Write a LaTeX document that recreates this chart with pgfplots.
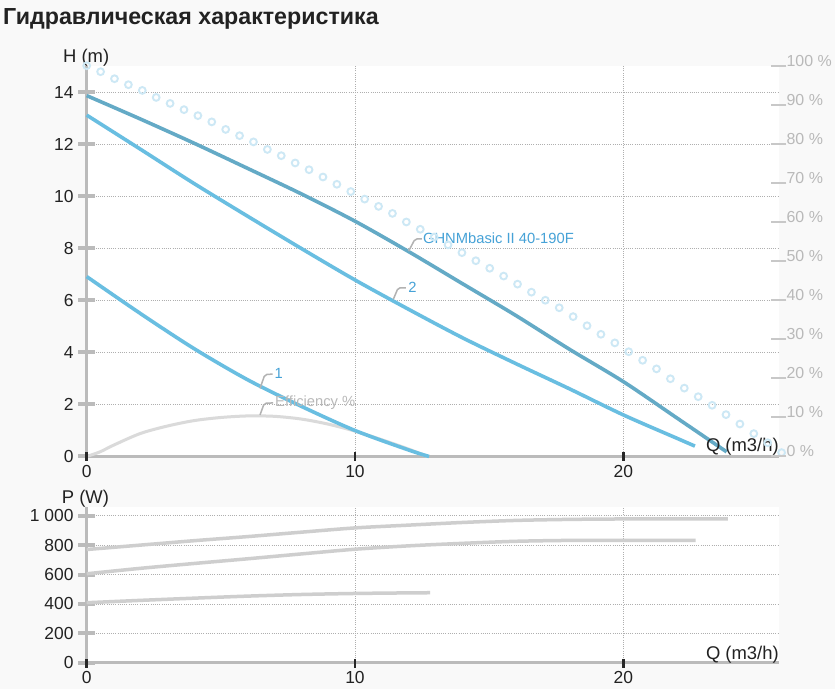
\documentclass[border=0pt]{standalone}
\usepackage{fontspec}
\setmainfont{Liberation Sans}
\usepackage{pgfplots}
\usepackage{pgfplotstable}
\pgfplotsset{compat=1.18}
\definecolor{bgc}{RGB}{249,249,249}
\definecolor{titlec}{RGB}{34,34,34}
\definecolor{darkc}{RGB}{100,170,198}
\definecolor{lightc}{RGB}{105,190,225}
\definecolor{circc}{RGB}{205,232,245}
\definecolor{lblc}{RGB}{70,162,215}
\definecolor{effc}{RGB}{218,218,218}
\definecolor{powc}{RGB}{206,206,206}
\definecolor{leadc}{RGB}{178,178,178}
\definecolor{gridc}{RGB}{175,175,175}
\definecolor{axisc}{RGB}{187,187,187}
\definecolor{pctc}{RGB}{185,185,185}
\definecolor{dashc}{RGB}{200,200,200}
\definecolor{tickc}{RGB}{40,40,40}
\newcommand\tf{\fontsize{17.5}{20}\selectfont}
\newcommand\af{\fontsize{18.5}{21}\selectfont}
\newcommand\lf{\fontsize{14.8}{17}\selectfont}
\newcommand\pf{\fontsize{16}{18}\selectfont}

\pgfplotstableread{
Q H
0 15.03
0.518 14.80
1.036 14.53
1.554 14.30
2.072 14.08
2.59 13.81
3.108 13.58
3.626 13.34
4.144 13.11
4.662 12.87
5.18 12.58
5.698 12.34
6.216 12.10
6.734 11.81
7.252 11.57
7.77 11.29
8.288 11.03
8.806 10.75
9.324 10.47
9.842 10.19
10.36 9.90
10.878 9.62
11.396 9.35
11.914 9.02
12.432 8.74
12.95 8.44
13.468 8.14
13.986 7.84
14.504 7.53
15.022 7.24
15.54 6.94
16.058 6.63
16.576 6.32
17.094 6.01
17.612 5.72
18.13 5.38
18.648 5.03
19.166 4.70
19.684 4.37
20.202 4.03
20.72 3.70
21.238 3.37
21.756 2.99
22.274 2.63
22.792 2.30
23.31 1.97
23.828 1.61
24.346 1.25
24.864 0.88
25.382 0.53
25.9 0.15
}\circdata

\pgfplotstableread{
Q E
0 0
0.5 1.2
1 2.9
2 5.9
3 7.8
4 9.2
5 10.0
6 10.4
7 10.3
8 9.6
9 8.3
10 6.5
11 4.3
12 1.9
12.7 0
}\effdata

\begin{document}
\begin{tikzpicture}
\fill[bgc] (0bp,0bp) rectangle (835bp,689bp);
\node[anchor=base west, inner sep=0pt, text=titlec, font=\bfseries\fontsize{23.3}{27}\selectfont] at (3bp,664bp) {Гидравлическая характеристика};
\node[anchor=base west, inner sep=0pt, text=titlec, font=\af] at (63bp,626.3bp) {H (m)};
\node[anchor=base west, inner sep=0pt, text=titlec, font=\af] at (61.7bp,185bp) {P (W)};

% ---------------- top chart ----------------
\begin{axis}[
  at={(86.7bp,232.5bp)}, anchor=south west,
  scale only axis, width=692.2bp, height=390bp,
  xmin=0, xmax=25.8, ymin=0, ymax=15,
  axis background/.style={fill=white},
  axis x line=bottom, axis y line=left,
  axis line style={-, line width=3bp, draw=axisc},
  xtick={0,10,20}, xticklabels={0,10,20},
  ytick={0,2,4,6,8,10,12,14}, yticklabels={0,2,4,6,8,10,12,14},
  xtick style={draw=none},
  ytick style={draw=axisc, line width=4bp},
  tick align=center, major tick length=17bp,
  grid=major,
  major grid style={gridc, line width=0.8bp, dash pattern=on 1bp off 1.2bp},
  xticklabel style={anchor=north, inner sep=0pt, font=\tf, text=titlec},
  yticklabel style={anchor=east, inner sep=0pt, xshift=-4.5bp, font=\tf, text=titlec},
  clip=false,
]
\addplot[only marks, mark=o, mark size=3.4bp, mark options={draw=circc, line width=1.9bp}] table[x=Q,y=H] {\circdata};
\addplot[effc, line width=3bp, smooth] table[x=Q, y expr=\thisrow{E}*0.15] {\effdata};
\addplot[darkc, line width=3.6bp, smooth] coordinates {
(0,13.88) (2,12.98) (4,12.05) (6,11.08) (8,10.1) (10,9.05) (12,7.88) (14,6.65) (16,5.42) (18,4.12) (20,2.88) (22,1.48) (23.85,0.18)};
\addplot[lightc, line width=3.6bp, smooth] coordinates {
(0,13.13) (2,11.82) (4,10.5) (6,9.24) (8,8.0) (10,6.79) (12,5.66) (14,4.57) (16,3.57) (18,2.6) (20,1.6) (22,0.7) (22.67,0.4)};
\addplot[lightc, line width=3.6bp, smooth] coordinates {
(0,6.92) (2,5.5) (4,4.15) (6,2.95) (8,1.93) (10,1.0) (12,0.25) (12.76,0)};
% x ticks
\draw[tickc, line width=2.6bp] (axis cs:0,0) ++(0,-4.5bp) -- ++(0,9bp);
\draw[tickc, line width=2.6bp] (axis cs:10,0) ++(0,-4.5bp) -- ++(0,9bp);
\draw[tickc, line width=2.6bp] (axis cs:20,0) ++(0,-4.5bp) -- ++(0,9bp);
% labels
\draw[leadc, line width=1.5bp, rounded corners=2bp] (axis cs:12.0,7.9) -- (axis cs:12.24,8.37) -- (axis cs:12.49,8.37);
\node[anchor=west, inner sep=0pt, text=lblc, font=\lf] at (axis cs:12.53,8.40) {GHNMbasic II 40-190F};
\draw[leadc, line width=1.5bp, rounded corners=2bp] (axis cs:11.43,6.05) -- (axis cs:11.61,6.49) -- (axis cs:11.9,6.49);
\node[anchor=west, inner sep=0pt, text=lblc, font=\lf] at (axis cs:11.98,6.52) {2};
\draw[leadc, line width=1.5bp, rounded corners=2bp] (axis cs:6.46,2.62) -- (axis cs:6.64,3.15) -- (axis cs:6.93,3.17);
\node[anchor=west, inner sep=0pt, text=lblc, font=\lf] at (axis cs:7.0,3.2) {1};
\draw[leadc, line width=1.5bp, rounded corners=2bp] (axis cs:6.46,1.60) -- (axis cs:6.62,2.05) -- (axis cs:6.95,2.06);
\node[anchor=west, inner sep=0pt, text=pctc, font=\lf] at (axis cs:7.02,2.06) {Efficiency \%};
\node[anchor=base east, inner sep=0pt, text=titlec, font=\af] at (rel axis cs:1,0) [yshift=4.5bp] {Q (m3/h)};
\end{axis}

% ---------------- right % axis ----------------
\begin{axis}[
  at={(86.7bp,232.5bp)}, anchor=south west,
  scale only axis, width=692.2bp, height=390bp,
  xmin=0, xmax=25.8, ymin=0, ymax=100,
  axis x line=none, axis y line*=right,
  axis line style={draw=none},
  xtick=\empty,
  ytick={0,10,20,30,40,50,60,70,80,90,100},
  yticklabels={0 \%,10 \%,20 \%,30 \%,40 \%,50 \%,60 \%,70 \%,80 \%,90 \%,100 \%},
  ytick style={draw=dashc, line width=2bp},
  tick align=center, major tick length=15bp,
  yticklabel style={anchor=base west, inner sep=0pt, font=\pf, text=pctc},
]
\end{axis}

% ---------------- bottom chart ----------------
\begin{axis}[
  at={(86.7bp,26.3bp)}, anchor=south west,
  scale only axis, width=692.2bp, height=155.8bp,
  xmin=0, xmax=25.8, ymin=0, ymax=1060,
  axis background/.style={fill=white},
  axis x line=bottom, axis y line=left,
  axis line style={-, line width=3bp, draw=axisc},
  xtick={0,10,20}, xticklabels={0,10,20},
  ytick={0,200,400,600,800,1000}, yticklabels={0,200,400,600,800,1 000},
  xtick style={draw=none},
  ytick style={draw=axisc, line width=4bp},
  tick align=center, major tick length=17bp,
  grid=major,
  major grid style={gridc, line width=0.8bp, dash pattern=on 1bp off 1.2bp},
  xticklabel style={anchor=north, inner sep=0pt, font=\tf, text=titlec},
  yticklabel style={anchor=east, inner sep=0pt, xshift=-4.5bp, font=\tf, text=titlec},
  clip=false,
]
\addplot[powc, line width=3.5bp, smooth] coordinates {
(0,770) (2,800) (4,830) (6,858) (8,888) (10,917) (12,936) (14,954) (16,968) (18,975) (20,978) (22,979) (23.9,979)};
\addplot[powc, line width=3.5bp, smooth] coordinates {
(0,605) (2,642) (4,675) (6,707) (8,740) (10,772) (12,795) (14,812) (16,826) (18,832) (20,833) (22,833) (22.7,833)};
\addplot[powc, line width=3.5bp, smooth] coordinates {
(0,408) (2,424) (4,439) (6,453) (8,464) (10,471) (12,475) (12.8,476)};
\draw[tickc, line width=2.6bp] (axis cs:0,0) ++(0,-5bp) -- ++(0,9bp);
\draw[tickc, line width=2.6bp] (axis cs:10,0) ++(0,-5bp) -- ++(0,9bp);
\draw[tickc, line width=2.6bp] (axis cs:20,0) ++(0,-5bp) -- ++(0,9bp);
\node[anchor=base east, inner sep=0pt, text=titlec, font=\af] at (rel axis cs:1,0) [yshift=3.5bp] {Q (m3/h)};
\end{axis}
\pgfresetboundingbox
\useasboundingbox (0bp,0bp) rectangle (835bp,689bp);
\end{tikzpicture}
\end{document}
